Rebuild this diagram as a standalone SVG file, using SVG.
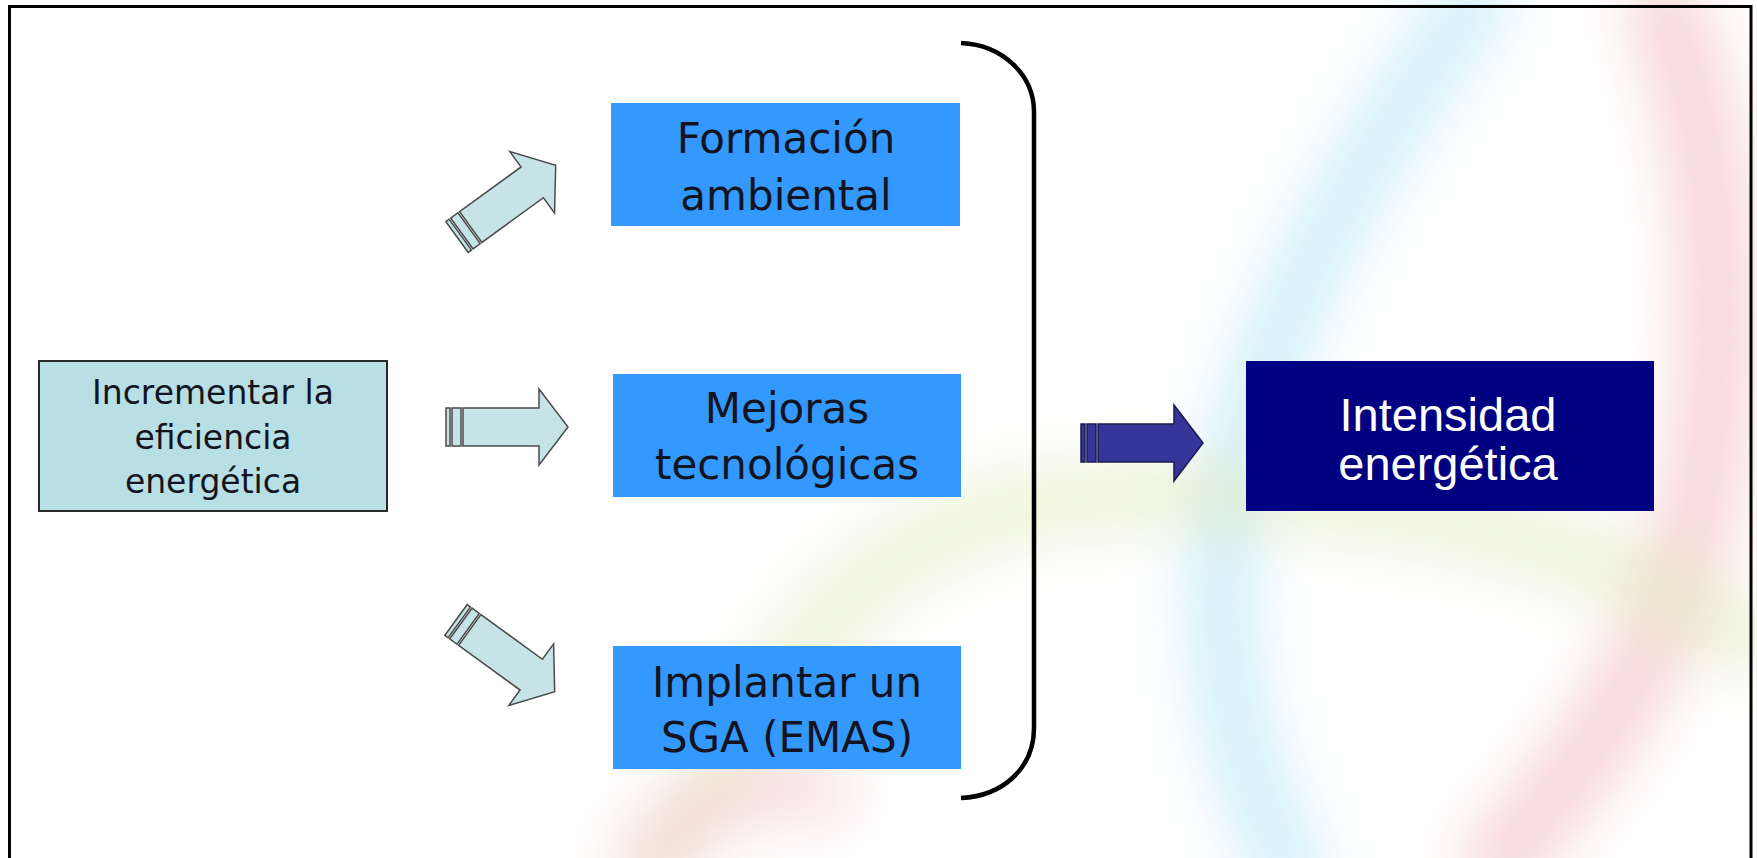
<svg xmlns="http://www.w3.org/2000/svg" width="1757" height="858" viewBox="0 0 1757 858">
<style>
.lbl{font-family:"DejaVu Sans","Liberation Sans",sans-serif;text-anchor:middle;fill:#141420}
.big{font-size:42px}
.small{font-size:33px}
.white{font-family:"Liberation Sans",Arial,sans-serif;font-size:47px;fill:#ffffff;text-anchor:middle}
.blue{fill:#3399ff}
.la{fill:#c6e4e7;stroke:#4a4a4a;stroke-width:1.5}
.da{fill:#36369a;stroke:#1a1a50;stroke-width:1.5}
</style>
<defs>
<filter id="blur" x="-20%" y="-20%" width="140%" height="140%"><feGaussianBlur stdDeviation="28"/></filter>
<g id="arrowShape">
<rect x="0" y="-19" width="4" height="38"/>
<rect x="6" y="-19" width="9" height="38"/>
<path d="M17,-19 L93,-19 L93,-38 L122,0 L93,38 L93,19 L17,19 Z"/>
</g>
</defs>
<rect width="1757" height="858" fill="#ffffff"/>
<g id="background" fill="none" filter="url(#blur)" stroke-linecap="round">
<path d="M1475,0 C1345,180 1240,360 1222,560 C1215,700 1255,800 1290,870" stroke="#bfe9fa" stroke-width="70" opacity="0.7"/>
<path d="M1665,10 C1720,150 1730,330 1700,500 C1670,650 1590,760 1500,860" stroke="#f5c3c6" stroke-width="75" opacity="0.7"/>
<path d="M650,870 C710,800 760,700 810,640 C890,540 990,500 1120,495 C1350,490 1560,520 1750,640" stroke="#e3ecc2" stroke-width="70" opacity="0.6"/>
<path d="M650,858 C690,800 750,780 820,790" stroke="#f5c9cc" stroke-width="70" opacity="0.55"/>
</g>
<g id="frame" fill="none" stroke="#000" stroke-width="3">
<path d="M9.5,858 L9.5,6.5 L1751,6.5 L1751,858"/>
</g>
<g id="connectors">
<g class="la" transform="translate(457,237) rotate(-36)"><use href="#arrowShape"/></g>
<g class="la" transform="translate(446,427)"><use href="#arrowShape"/></g>
<g class="la" transform="translate(456,620) rotate(36)"><use href="#arrowShape"/></g>
<g class="da" transform="translate(1081,443)"><use href="#arrowShape"/></g>
<path id="brace" d="M961,43 C1003,45 1034,75 1034,112 L1034,728 C1034,768 1003,796 961,798" fill="none" stroke="#000" stroke-width="4.5"/>
</g>
<g id="node-incrementar">
<rect x="39" y="361" width="348" height="150" fill="#b8dfe4" stroke="#2a2a2a" stroke-width="2"/>
<text class="lbl small" x="213" y="404">Incrementar la</text>
<text class="lbl small" x="213" y="449">eficiencia</text>
<text class="lbl small" x="213" y="493">energética</text>
</g>
<g id="node-formacion">
<rect class="blue" x="611" y="103" width="349" height="123"/>
<text class="lbl big" x="786" y="153">Formación</text>
<text class="lbl big" x="786" y="210">ambiental</text>
</g>
<g id="node-mejoras">
<rect class="blue" x="613" y="374" width="348" height="123"/>
<text class="lbl big" x="787" y="423">Mejoras</text>
<text class="lbl big" x="787" y="479">tecnológicas</text>
</g>
<g id="node-implantar">
<rect class="blue" x="613" y="646" width="348" height="123"/>
<text class="lbl big" x="787" y="697">Implantar un</text>
<text class="lbl big" x="787" y="752">SGA (EMAS)</text>
</g>
<g id="node-intensidad">
<rect x="1246" y="361" width="408" height="150" fill="#000080"/>
<text class="white" x="1448" y="431">Intensidad</text>
<text class="white" x="1448" y="480">energética</text>
</g>
</svg>
